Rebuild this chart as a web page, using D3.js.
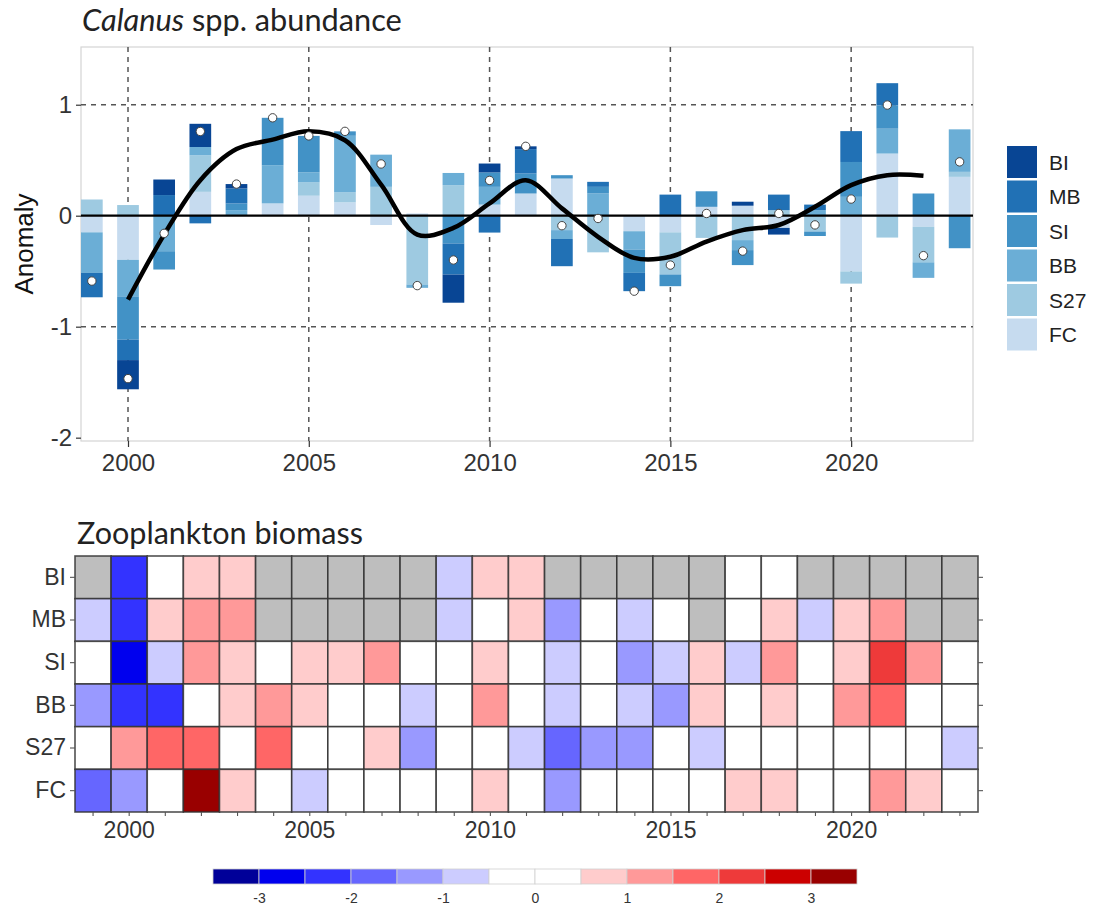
<!DOCTYPE html>
<html><head><meta charset="utf-8">
<script src="https://cdn.jsdelivr.net/npm/d3@7"></script>
<style>body{margin:0;background:#fff}</style>
</head><body>
<svg id="c" width="1100" height="911"></svg>
<script>
// ---------- data ----------
const years = d3.range(1999, 2024);
const regions = ["BI","MB","SI","BB","S27","FC"];
const BI  = [0,-0.263,0.14,0.209,0.04,0,0,0,0,0,-0.254,0.08,0.025,0,0,0,0,0,0.036,-0.06,0,0,0,0,0];
const MB  = [-0.22,-0.185,0.186,-0.069,0.135,0,0,0,0,0,-0.28,-0.152,0.22,-0.245,0.045,-0.165,0.19,0,0,0.14,0.05,0.278,0.2,0,0];
const SI  = [0,-0.389,-0.165,0,0.06,0.427,0.329,0.04,0,0,-0.25,0.13,0.18,0.03,0.06,-0.21,-0.105,0.14,-0.135,0,-0.04,0.314,0.21,0.2,-0.293];
const BB  = [-0.365,-0.329,-0.32,0.075,0.05,0.344,0.09,0.51,0.29,-0.03,0.11,0.16,0,-0.08,0.2,-0.165,0,0,-0.09,0,0.05,0.17,0.224,-0.14,0.383];
const S27 = [0.146,0.096,0,0.329,0,0,0.12,0.09,0.26,-0.62,0.275,0,0,-0.13,-0.33,0,-0.38,-0.2,-0.22,0.05,-0.143,-0.11,-0.197,-0.32,0.045];
const FC  = [-0.15,-0.398,0,0.215,0,0.111,0.18,0.12,-0.084,0.02,0,0.1,0.2,0.335,0,-0.14,-0.15,0.08,0.09,-0.11,0,-0.502,0.56,-0.1,0.35];
const smoothYears = d3.range(2000, 2023);
const smoothVals = [-0.756,-0.17,0.32,0.60,0.685,0.76,0.68,0.28,-0.17,-0.11,0.11,0.32,0.066,-0.19,-0.38,-0.37,-0.233,-0.13,-0.084,0.08,0.275,0.365,0.36];
const yTicks = [-2,-1,0,1];
const xTicks = [2000,2005,2010,2015,2020];

// heatmap (null = no data)
const hBI  = [null,-2.25,0,0.75,0.75,null,null,null,null,null,-0.75,0.75,0.75,null,null,null,null,null,0,0,null,null,null,null,null];
const hMB  = [-0.75,-2.25,0.75,1.25,1.25,null,null,null,null,null,-0.75,0,0.75,-1.25,0,-0.75,0,null,0,0.75,-0.75,0.75,1.25,null,null];
const hSI  = [0,-2.75,-0.75,1.25,0.75,0,0.75,0.75,1.25,0,0,0.75,0,-0.75,0,-1.25,-0.75,0.75,-0.75,1.25,0,0.75,2.25,1.25,0];
const hBB  = [-1.25,-2.25,-2.25,0,0.75,1.25,0.75,0,0,-0.75,0,1.25,0,-0.75,0,-0.75,-1.25,0.75,0,0.75,0,1.25,1.75,0,0];
const hS27 = [0,1.25,1.75,1.75,0,1.75,0,0,0.75,-1.25,0,0,-0.75,-1.75,-1.25,-1.25,0,-0.75,0,0,0,0,0,0,-0.75];
const hFC  = [-1.75,-1.25,0,3.25,0.75,0,-0.75,0,0,0,0,0.75,0,-1.25,0,0,0,0,0.75,0.75,0,0,1.25,0.75,0];
const colorBreaks = [-3,-2.5,-2,-1.5,-1,-0.5,0,0.5,1,1.5,2,2.5,3];
const colorBins = ["#000099","#0000ee","#3333ff","#6666ff","#9999ff","#ccccff","#ffffff","#ffffff","#ffcccc","#ff9999","#ff6666","#ee3a3a","#cc0000","#990000"];
const cbLabels = [-3,-2,-1,0,1,2,3];

// ---------- styles ----------
const blues = {BI:"#084594",MB:"#2171b5",SI:"#4292c6",BB:"#6baed6",S27:"#9ecae1",FC:"#c6dbef"};
const axisFont = "'Liberation Sans', Arial, sans-serif";
const titleFont = "Lato, 'Open Sans', sans-serif";
const fmt = d => String(d);
const svg = d3.select("#c");

// ---------- top chart ----------
const P = {l:81, r:973, t:47, b:441};
const x = d3.scaleLinear().domain([1998.7, 2023.37]).range([P.l, P.r]);
const y = d3.scaleLinear().domain([-2.03, 1.52]).range([P.b, P.t]);
const series = {BI,MB,SI,BB,S27,FC};
const rows = years.map((yr,i)=>{const o={year:yr}; regions.forEach(r=>o[r]=series[r][i]); return o;});
const stackKeys = ["FC","S27","BB","SI","MB","BI"];
const stacked = d3.stack().keys(stackKeys).offset(d3.stackOffsetDiverging)(rows);

svg.append("rect").attr("x",P.l).attr("y",P.t).attr("width",P.r-P.l).attr("height",P.b-P.t)
  .attr("fill","#fff").attr("stroke","#d4d4d4").attr("stroke-width",1.2);

svg.append("clipPath").attr("id","pc").append("rect")
  .attr("x",P.l).attr("y",P.t).attr("width",P.r-P.l).attr("height",P.b-P.t);
const g = svg.append("g").attr("clip-path","url(#pc)");

// grid
g.selectAll(".gx").data(xTicks).join("line").attr("x1",d=>x(d)).attr("x2",d=>x(d))
  .attr("y1",P.t).attr("y2",P.b).attr("stroke","#555").attr("stroke-width",1.5).attr("stroke-dasharray","5,5");
g.selectAll(".gy").data([1,-1]).join("line").attr("x1",P.l).attr("x2",P.r)
  .attr("y1",d=>y(d)).attr("y2",d=>y(d)).attr("stroke","#555").attr("stroke-width",1.5).attr("stroke-dasharray","5,5");

// bars
const bw = x(1999.6)-x(1999);
stacked.forEach(s=>{
  g.selectAll(null).data(s).join("rect")
    .attr("x",d=>x(d.data.year)-bw/2).attr("width",bw)
    .attr("y",d=>y(Math.max(d[0],d[1]))).attr("height",d=>Math.abs(y(d[0])-y(d[1])))
    .attr("fill",blues[s.key]);
});
// zero line
g.append("line").attr("x1",P.l).attr("x2",P.r).attr("y1",y(0)).attr("y2",y(0))
  .attr("stroke","#000").attr("stroke-width",2.2);
// smooth
g.append("path").datum(smoothYears.map((yr,i)=>[yr,smoothVals[i]]))
  .attr("d",d3.line().x(d=>x(d[0])).y(d=>y(d[1])).curve(d3.curveCatmullRom.alpha(0.5)))
  .attr("fill","none").attr("stroke","#000").attr("stroke-width",4.5).attr("stroke-linecap","butt");
// points = total
g.selectAll(".pt").data(rows).join("circle")
  .attr("cx",d=>x(d.year)).attr("cy",d=>y(d3.sum(regions,r=>d[r]))).attr("r",4.2)
  .attr("fill","#fff").attr("stroke","#444").attr("stroke-width",1);

// axes
const xa = svg.append("g").attr("transform",`translate(0,${P.b})`)
  .call(d3.axisBottom(x).tickValues(xTicks).tickFormat(fmt).tickSize(6).tickPadding(5));
const ya = svg.append("g").attr("transform",`translate(${P.l},0)`)
  .call(d3.axisLeft(y).tickValues(yTicks).tickFormat(fmt).tickSize(5).tickPadding(4));
[xa,ya].forEach(a=>{a.select(".domain").remove();
  a.selectAll("line").attr("stroke","#333").attr("stroke-width",1.2);
  a.selectAll("text").attr("font-family",axisFont).attr("font-size",24).attr("fill","#333");});
xa.selectAll("text").attr("dy","0.8em");

svg.append("text").attr("transform",`translate(33,${(P.t+P.b)/2}) rotate(-90)`)
  .attr("text-anchor","middle").attr("font-family",axisFont).attr("font-size",26).attr("fill","#111").text("Anomaly");

// title
const t1 = svg.append("text").attr("x",82).attr("y",31).attr("font-family",titleFont).attr("font-size",25).attr("fill","#222");
t1.append("tspan").attr("font-style","italic").text("Calanus");
t1.append("tspan").text(" spp. abundance");
{const w=t1.node().getComputedTextLength(); t1.attr("font-size",25*320/w);}

// legend
const L = {x:1007, y:146, w:30, h:32, gap:2.5};
const lg = svg.append("g");
regions.forEach((r,i)=>{
  lg.append("rect").attr("x",L.x).attr("y",L.y+i*(L.h+L.gap)).attr("width",L.w).attr("height",L.h).attr("fill",blues[r]);
  lg.append("text").attr("x",L.x+L.w+12).attr("y",L.y+i*(L.h+L.gap)+L.h/2).attr("dy","0.36em")
    .attr("font-family",axisFont).attr("font-size",21).attr("fill","#222").text(r);
});

// ---------- heatmap ----------
const H = {l:75, r:978, t:556, b:812};
const hx = d3.scaleBand().domain(years).range([H.l,H.r]);
const hy = d3.scaleBand().domain(regions).range([H.t,H.b]);
const col = d3.scaleThreshold().domain(colorBreaks).range(colorBins);
const hdata = {BI:hBI,MB:hMB,SI:hSI,BB:hBB,S27:hS27,FC:hFC};
const cells = [];
regions.forEach(r=>years.forEach((yr,i)=>cells.push({r,yr,v:hdata[r][i]})));

const t2 = svg.append("text").attr("x",77).attr("y",544).attr("font-family",titleFont).attr("font-size",24).attr("fill","#222").text("Zooplankton biomass");
{const w=t2.node().getComputedTextLength(); t2.attr("font-size",24*286/w);}

svg.append("g").selectAll("rect").data(cells).join("rect")
  .attr("x",d=>hx(d.yr)).attr("y",d=>hy(d.r)).attr("width",hx.bandwidth()).attr("height",hy.bandwidth())
  .attr("fill",d=>d.v===null?"#bebebe":col(d.v))
  .attr("stroke","#333").attr("stroke-width",1.6).attr("stroke-opacity",0.85);

const hxa = svg.append("g").attr("transform",`translate(0,${H.b})`)
  .call(d3.axisBottom(hx).tickValues(years).tickFormat(d=>xTicks.includes(d)?String(d):"").tickSize(4).tickPadding(4));
const hya = svg.append("g").attr("transform",`translate(${H.l},0)`)
  .call(d3.axisLeft(hy).tickSize(5).tickPadding(4));
const hyr = svg.append("g").attr("transform",`translate(${H.r},0)`)
  .call(d3.axisRight(hy).tickSize(5).tickFormat(""));
[hxa,hya,hyr].forEach(a=>{a.select(".domain").remove();
  a.selectAll("line").attr("stroke","#555").attr("stroke-width",1.1);
  a.selectAll("text").attr("font-family",axisFont).attr("font-size",23).attr("fill","#333");});
hxa.selectAll("text").attr("dy","0.8em");

// colorbar
const cb = d3.scaleLinear().domain([-3.5,3.5]).range([213,857]);
const binEdges = d3.range(-3.5,3.5,0.5);
svg.append("g").selectAll("rect").data(binEdges).join("rect")
  .attr("x",d=>cb(d)).attr("y",869).attr("width",cb(0.5)-cb(0)).attr("height",15)
  .attr("fill",d=>col(d+0.25)).attr("stroke","#d0d0d0").attr("stroke-width",0.8);
const cba = svg.append("g").attr("transform","translate(0,884)")
  .call(d3.axisBottom(cb).tickValues(cbLabels).tickFormat(fmt).tickSize(0).tickPadding(9));
cba.select(".domain").remove();
cba.selectAll("text").attr("font-family",axisFont).attr("font-size",14).attr("fill","#333");
</script>
</body></html>
